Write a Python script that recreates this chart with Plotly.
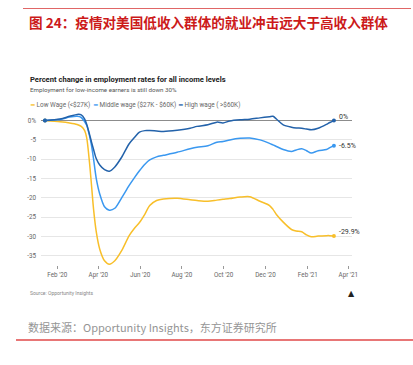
import plotly.graph_objects as go

# ---------------- data ----------------
dates = [
    "2020-01-14", "2020-02-05", "2020-02-19", "2020-03-01", "2020-03-07", "2020-03-12",
    "2020-03-15", "2020-03-19", "2020-03-22", "2020-03-25", "2020-03-29", "2020-04-03",
    "2020-04-10", "2020-04-17", "2020-04-25", "2020-05-05", "2020-05-16", "2020-05-24",
    "2020-05-31", "2020-06-08", "2020-06-15", "2020-06-25", "2020-07-05", "2020-07-25",
    "2020-08-13", "2020-08-23", "2020-09-08", "2020-09-21", "2020-09-30", "2020-10-10",
    "2020-10-25", "2020-11-08", "2020-11-23", "2020-12-07", "2020-12-12", "2020-12-17",
    "2020-12-27", "2021-01-08", "2021-01-15", "2021-01-23", "2021-01-30", "2021-02-06",
    "2021-02-16", "2021-02-28", "2021-03-05", "2021-03-11",
]
high_wage = [
    0.0, 0.4, 1.1, 1.6, 1.5, 0.4,
    -1.0, -3.5, -5.6, -7.5, -9.9, -11.5,
    -12.7, -13.1, -12.0, -9.5, -6.0, -4.3,
    -3.0, -2.6, -2.6, -2.7, -2.8, -2.5,
    -2.0, -1.5, -1.1, -0.4, -0.6, -0.1,
    0.2, 0.35, 0.7, 1.0, 1.1, 0.4,
    -1.1, -1.7, -1.9, -2.0, -2.2, -2.4,
    -2.0, -1.0, -0.5, 0.0,
]
middle_wage = [
    0.0, 0.3, 0.9, 1.1, 0.8, -0.3,
    -1.2, -3.9, -6.5, -10.0, -15.1, -19.0,
    -22.3, -23.2, -22.7, -20.0, -16.8, -14.7,
    -13.0, -11.3, -10.2, -9.4, -9.0, -8.2,
    -7.3, -6.9, -6.5, -5.6, -5.4, -5.0,
    -4.6, -4.5, -5.0, -5.9, -6.3, -6.7,
    -7.5, -8.0, -7.6, -7.3, -7.8, -8.4,
    -7.8, -7.5, -7.0, -6.5,
]
low_wage = [
    0.0, -0.3, -0.6, -1.0, -1.5, -2.6,
    -4.5, -10.8, -16.8, -23.0, -28.9, -33.3,
    -36.3, -37.2, -36.3, -33.7, -29.8, -27.8,
    -26.4, -24.2, -22.0, -20.7, -20.3, -20.1,
    -20.5, -20.7, -20.9, -20.6, -20.4, -20.2,
    -19.8, -19.7, -20.9, -22.0, -23.0, -24.3,
    -26.3, -28.2, -28.6, -28.8, -29.6, -30.1,
    -29.9, -29.8, -29.8, -29.9,
]
series_names = ["Low Wage (<$27K)", "Middle wage ($27K - $60K)", "High wage ( >$60K)"]
end_labels = ["-29.9%", "-6.5%", "0%"]
x_tick_vals = ["2020-02-01", "2020-04-01", "2020-06-01", "2020-08-01", "2020-10-01",
               "2020-12-01", "2021-02-01", "2021-04-01"]
x_tick_text = ["Feb '20", "Apr '20", "Jun '20", "Aug '20", "Oct '20", "Dec '20", "Feb '21", "Apr '21"]
y_tick_vals = [0, -5, -10, -15, -20, -25, -30, -35]
y_tick_text = ["0%", "-5", "-10", "-15", "-20", "-25", "-30", "-35"]

# ---------------- layout constants ----------------
FW, FH = 413, 365
ML, MR, MT, MB = 41, 61, 109, 100
PW, PH = FW - ML - MR, FH - MT - MB

def px(x):
    return (x - ML) / PW

def py(y):
    return (FH - MB - y) / PH

colors = ["#F8BF2A", "#3A98F0", "#2362AA"]
values = [low_wage, middle_wage, high_wage]
FONT = "Roboto, Liberation Sans, Arial, sans-serif"

fig = go.Figure()
for name, vals, col in zip(series_names, values, colors):
    fig.add_trace(go.Scatter(
        x=dates, y=vals, name=name, mode="lines",
        line=dict(color=col, width=1.5, shape="spline", smoothing=0.8),
        showlegend=False, hoverinfo="skip",
    ))
for vals, col in zip(values, colors):
    fig.add_trace(go.Scatter(
        x=[dates[0], dates[-1]], y=[vals[0], vals[-1]], mode="markers",
        marker=dict(color=col, size=4), showlegend=False, hoverinfo="skip",
    ))

annotations = []
# end labels
yshifts = [4, 0, 4]
for vals, lab, ys in zip(values, end_labels, yshifts):
    annotations.append(dict(
        x=dates[-1], y=vals[-1], xref="x", yref="y", text=lab, showarrow=False,
        xanchor="left", yanchor="middle", xshift=3, yshift=ys,
        font=dict(family=FONT, size=7, color="#333333"),
    ))

# red Chinese title
annotations.append(dict(
    x=px(27), y=py(22), xref="paper", yref="paper", xanchor="left", yanchor="middle",
    text="<b>图 24：疫情对美国低收入群体的就业冲击远大于高收入群体</b>", showarrow=False,
    font=dict(family="Noto Sans CJK SC", size=13.6, color="#CC1A1A"),
))
# chart title & subtitle
annotations.append(dict(
    x=px(28), y=py(79), xref="paper", yref="paper", xanchor="left", yanchor="middle",
    text="<b>Percent change in employment rates for all income levels</b>", showarrow=False,
    font=dict(family=FONT, size=7.6, color="#222222"),
))
annotations.append(dict(
    x=px(28), y=py(90), xref="paper", yref="paper", xanchor="left", yanchor="middle",
    text="Employment for low-income earners is still down 30%", showarrow=False,
    font=dict(family=FONT, size=6.2, color="#555555"),
))
# legend
leg_x = [28, 91, 176]
for name, col, lx in zip(series_names, colors, leg_x):
    annotations.append(dict(
        x=px(lx), y=py(105), xref="paper", yref="paper", xanchor="left", yanchor="middle",
        text=f"<span style='color:{col}'><b>━</b></span> {name}", showarrow=False,
        font=dict(family=FONT, size=6.4, color="#666666"),
    ))
# source
annotations.append(dict(
    x=px(28), y=py(293), xref="paper", yref="paper", xanchor="left", yanchor="middle",
    text="Source: Opportunity Insights", showarrow=False,
    font=dict(family=FONT, size=5, color="#888888"),
))
annotations.append(dict(
    x=px(351), y=py(293), xref="paper", yref="paper", xanchor="center", yanchor="middle",
    text="<b>▲</b>", showarrow=False,
    font=dict(family="DejaVu Sans", size=8, color="#222222"),
))
# bottom source
annotations.append(dict(
    x=px(26), y=py(327), xref="paper", yref="paper", xanchor="left", yanchor="middle",
    text="数据来源：Opportunity Insights，东方证券研究所", showarrow=False,
    font=dict(family="Noto Sans CJK SC", size=11, color="#959595"),
))

shapes = [
    dict(type="line", xref="paper", yref="paper", x0=px(23), x1=px(411), y0=py(8.5), y1=py(8.5),
         line=dict(color="#E06666", width=1)),
    dict(type="line", xref="paper", yref="paper", x0=px(16), x1=px(413), y0=py(340), y1=py(340),
         line=dict(color="#E04848", width=1.3)),
]

fig.update_layout(
    width=FW, height=FH, autosize=False,
    margin=dict(l=ML, r=MR, t=MT, b=MB, pad=0),
    paper_bgcolor="white", plot_bgcolor="white",
    annotations=annotations, shapes=shapes,
    xaxis=dict(
        type="date", range=["2020-01-08 05:00", "2021-04-06 10:00"],
        tickvals=x_tick_vals, ticktext=x_tick_text,
        showgrid=False, zeroline=False, showline=False,
        ticks="outside", ticklen=3, tickcolor="#999999", tickwidth=1,
        tickfont=dict(family=FONT, size=6.3, color="#666666"),
    ),
    yaxis=dict(
        range=[-37.4, 3], tickvals=y_tick_vals, ticktext=y_tick_text,
        showgrid=True, gridcolor="#E6E6E6", gridwidth=1,
        zeroline=True, zerolinecolor="#8C8C8C", zerolinewidth=1,
        showline=False, ticks="", ticklabelstandoff=4,
        tickfont=dict(family=FONT, size=6.3, color="#666666"),
    ),
)

fig.write_html(
    "out.html",
    config={"displayModeBar": False},
    post_script="document.body.style.margin='0';document.body.style.overflow='hidden';",
)
